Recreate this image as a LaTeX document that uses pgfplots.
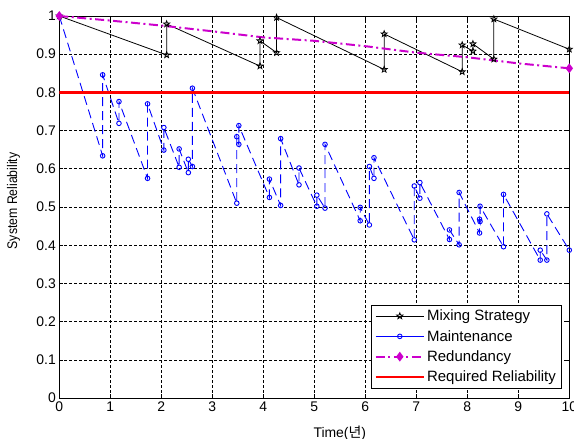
\documentclass[border=0pt]{standalone}
\usepackage{fontspec}
\setmainfont{Liberation Sans}
\newfontfamily\cjk{Noto Sans CJK KR}
\usepackage{graphicx}
\usepackage{pgfplots}
\pgfplotsset{compat=1.18}

\definecolor{redund}{RGB}{204,0,204}

% five-pointed star like the matlab pentagram marker
\pgfdeclareplotmark{pentagram}{%
  \pgfpathmoveto{\pgfpointpolar{90}{\pgfplotmarksize}}%
  \pgfpathlineto{\pgfpointpolar{126}{0.42\pgfplotmarksize}}%
  \pgfpathlineto{\pgfpointpolar{162}{\pgfplotmarksize}}%
  \pgfpathlineto{\pgfpointpolar{198}{0.42\pgfplotmarksize}}%
  \pgfpathlineto{\pgfpointpolar{234}{\pgfplotmarksize}}%
  \pgfpathlineto{\pgfpointpolar{270}{0.42\pgfplotmarksize}}%
  \pgfpathlineto{\pgfpointpolar{306}{\pgfplotmarksize}}%
  \pgfpathlineto{\pgfpointpolar{342}{0.42\pgfplotmarksize}}%
  \pgfpathlineto{\pgfpointpolar{18}{\pgfplotmarksize}}%
  \pgfpathlineto{\pgfpointpolar{54}{0.42\pgfplotmarksize}}%
  \pgfpathclose
  \pgfusepathqstroke
}

\begin{document}
\begin{tikzpicture}
\begin{axis}[
  scale only axis,
  width=510bp, height=382bp,
  xmin=0, xmax=10, ymin=0, ymax=1,
  xtick={0,1,2,3,4,5,6,7,8,9,10},
  ytick={0,0.1,0.2,0.3,0.4,0.5,0.6,0.7,0.8,0.9,1},
  /pgf/number format/assume math mode=true,
  yticklabel style={/pgf/number format/fixed,/pgf/number format/precision=1},
  tick label style={font=\fontsize{14}{16}\selectfont},
  grid=major,
  major grid style={black, dash pattern=on 2.5bp off 2.5bp, line width=0.6pt},
  tick align=inside,
  major tick length=4bp,
  tick style={black, line width=0.6pt},
  axis line style={black, line width=0.8pt},
  xlabel={Time({\cjk 년})},
  xlabel style={font=\fontsize{14}{16}\selectfont, at={(axis description cs:0.55,0)}, anchor=north, yshift=-24bp},
  ylabel={\scalebox{0.88}[1]{System Reliability}},
  ylabel style={font=\fontsize{14}{16}\selectfont, at={(axis description cs:-0.09,0.516)}, anchor=center},
  legend cell align=left,
  legend style={at={(axis description cs:0.984,0.025)}, anchor=south east,
    font=\fontsize{15}{17}\selectfont, draw=black, line width=0.6pt,
    row sep=4bp, inner sep=3bp},
  legend image code/.code={%
    \draw[mark repeat=2,mark phase=2,#1] plot coordinates {(0bp,0bp) (24bp,0bp) (48bp,0bp)};},
]
% Mixing Strategy
\addplot[black, line width=0.8pt, mark=pentagram, mark size=3.2bp] coordinates {
  (0,1) (2.105,0.898) (2.105,0.979) (3.935,0.869) (3.935,0.935)
  (4.26,0.904) (4.26,0.996) (6.37,0.860) (6.37,0.953) (7.90,0.854)
  (7.90,0.924) (8.11,0.908) (8.11,0.927) (8.52,0.887) (8.52,0.992) (10,0.913)
};
\addlegendentry{Mixing Strategy}
% Maintenance
\addplot[blue, line width=0.9pt, dash pattern=on 9bp off 5bp, mark=o, mark size=2.3bp,
  mark options={solid}, legend image post style={solid}] coordinates {
  (0,1) (0.85,0.634) (0.85,0.846) (1.17,0.719) (1.17,0.776) (1.73,0.575)
  (1.73,0.770) (2.05,0.649) (2.05,0.708) (2.35,0.604) (2.35,0.652)
  (2.53,0.590) (2.53,0.625) (2.61,0.606) (2.61,0.811) (3.48,0.510)
  (3.48,0.684) (3.52,0.664) (3.52,0.713) (4.12,0.525) (4.12,0.573)
  (4.34,0.504) (4.34,0.679) (4.70,0.558) (4.70,0.602) (5.05,0.502)
  (5.05,0.531) (5.21,0.497) (5.21,0.664) (5.90,0.464) (5.90,0.499)
  (6.08,0.453) (6.08,0.606) (6.17,0.575) (6.17,0.629) (6.96,0.414)
  (6.96,0.555) (7.07,0.523) (7.07,0.564) (7.65,0.415) (7.65,0.440)
  (7.84,0.401) (7.84,0.538) (8.24,0.432) (8.24,0.468) (8.25,0.462)
  (8.25,0.502) (8.71,0.396) (8.71,0.533) (9.43,0.361) (9.43,0.387)
  (9.56,0.361) (9.56,0.482) (10,0.387)
};
\addlegendentry{Maintenance}
% Redundancy
\addplot[redund, line width=2pt, dash pattern=on 9bp off 3.5bp on 2bp off 3.5bp,
  mark=diamond*, mark size=3.3bp, mark options={solid}, mark indices={1,11},
  legend image post style={mark indices={2}}] coordinates {
  (0,1) (1,0.988) (2,0.975) (3,0.960) (4,0.944) (5,0.935)
  (6,0.921) (7,0.904) (8,0.892) (9,0.876) (10,0.863)
};
\addlegendentry{Redundancy}
% Required Reliability
\addplot[red, line width=2.6pt] coordinates {(0,0.8) (10,0.8)};
\addlegendentry{Required Reliability}
\end{axis}
\pgfresetboundingbox
\path[use as bounding box] ([xshift=-59.3bp,yshift=-41bp]current axis.south west)
  rectangle ([xshift=4.7bp,yshift=16bp]current axis.north east);
\end{tikzpicture}
\end{document}
